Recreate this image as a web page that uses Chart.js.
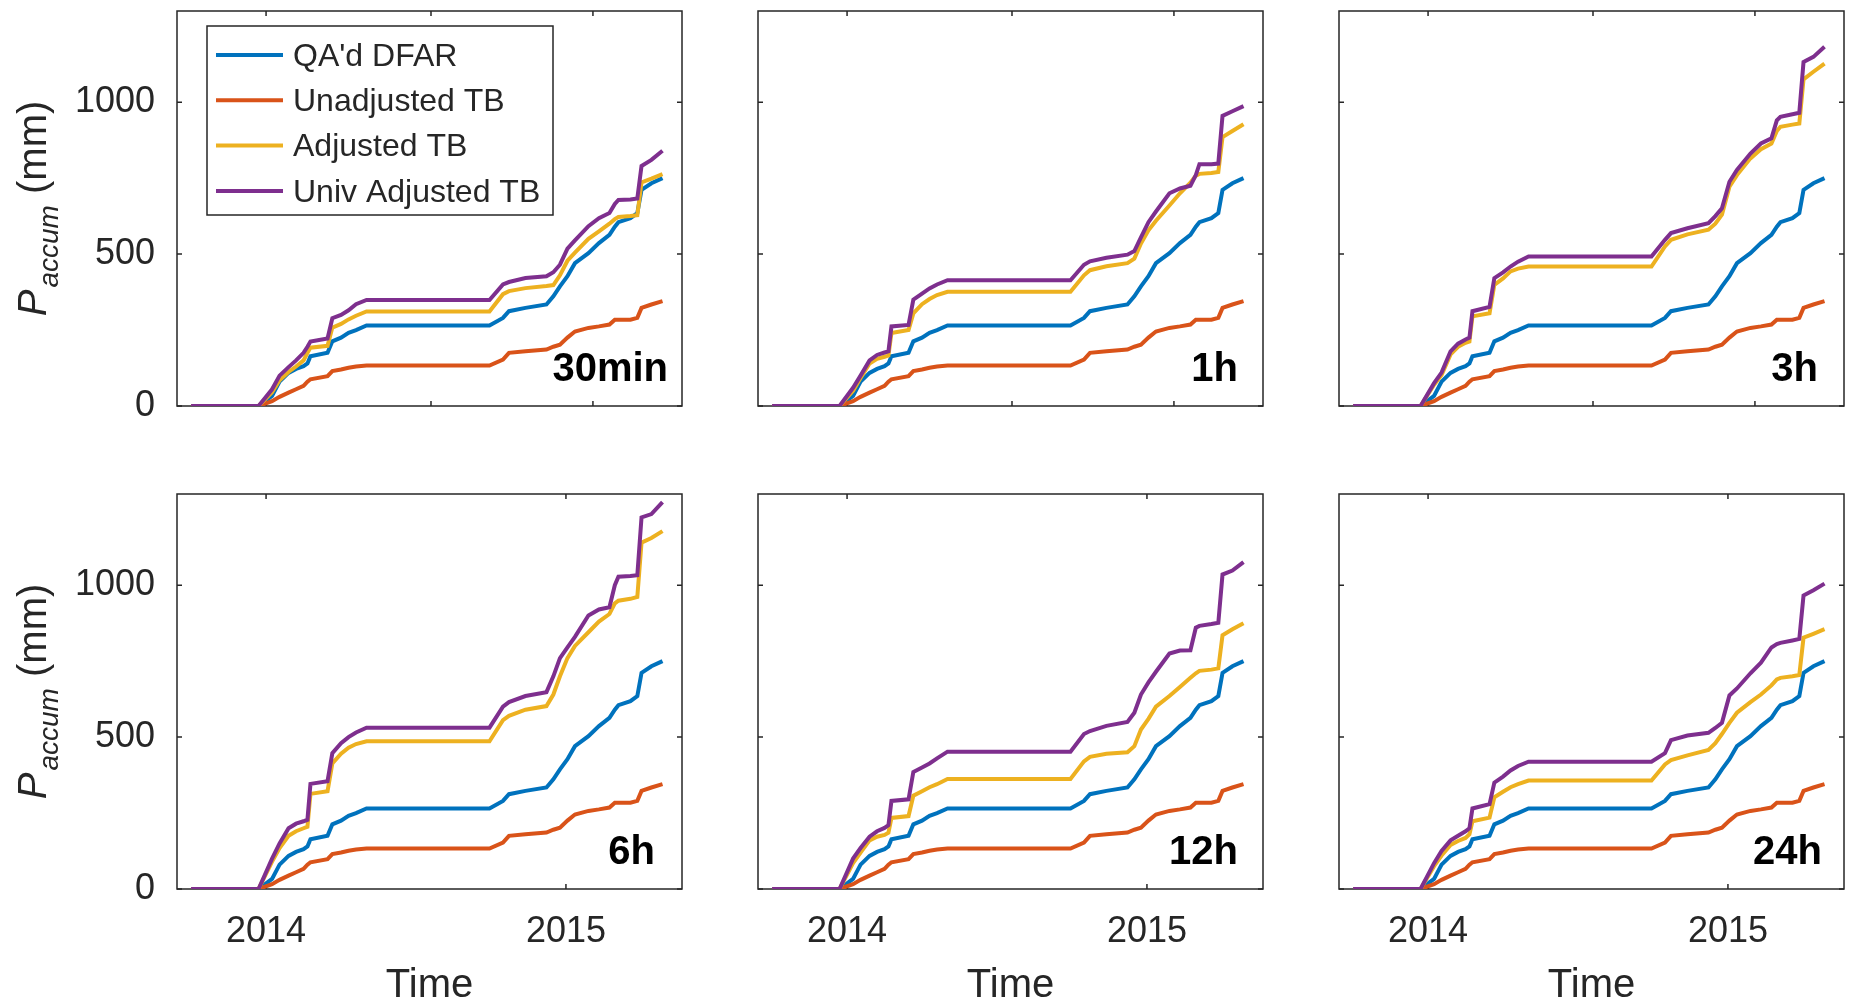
<!DOCTYPE html>
<html>
<head>
<meta charset="utf-8">
<title>Accumulated precipitation by TB adjustment</title>
<script src="https://cdn.jsdelivr.net/npm/chart.js@4.4.1/dist/chart.umd.min.js"></script>
<style>
  html, body { margin: 0; padding: 0; background: #fff; overflow: hidden; }
  #fig { position: relative; width: 1850px; height: 1005px; }
  #fig canvas { position: absolute; }
</style>
</head>
<body>
<div id="fig"></div>
<script>
// ---------- data (decimal years, accumulated mm) ----------

const TIME = [2013.75, 2013.975, 2014.02, 2014.045, 2014.075, 2014.10, 2014.125, 2014.138, 2014.148, 2014.205,
              2014.221, 2014.25, 2014.275, 2014.30, 2014.335, 2014.745, 2014.79, 2014.81, 2014.865, 2014.935,
              2014.958, 2014.98, 2015.005, 2015.03, 2015.075, 2015.11, 2015.145, 2015.163, 2015.175, 2015.215,
              2015.238, 2015.252, 2015.285, 2015.322];

const SERIES_NAMES = ["QA'd DFAR", "Unadjusted TB", "Adjusted TB", "Univ Adjusted TB"];
const PANEL_NAMES  = ["30min", "1h", "3h", "6h", "12h", "24h"];

const Y_TICKS         = [0, 500, 1000];
const BOTTOM_X_TICKS  = [2014, 2015];
const TOP_X_TICKS     = [2014, 2014.55, 2015.09];

// reference gauge + unadjusted bucket: same in every panel
const DFAR     = [0, 0, 33, 80, 109, 122, 131, 140, 164, 175, 213, 225, 241, 250, 265, 265, 290, 312, 323, 334,
                  361, 394, 427, 470, 503, 536, 563, 590, 605, 618, 635, 711, 733, 750];
const UNADJ_TB = [0, 0, 16, 30, 44, 55, 66, 80, 88, 98, 115, 120, 126, 130, 133, 133, 153, 175, 180, 186,
                  195, 202, 225, 245, 257, 262, 268, 284, 284, 284, 290, 323, 334, 345];

const ADJ_30MIN  = [0, 0, 45, 85, 112, 130, 150, 175, 192, 198, 258, 270, 285, 297, 311, 311, 368, 378, 388, 395,
                    398, 430, 478, 505, 550, 575, 600, 615, 622, 625, 628, 736, 748, 763];
const UNIV_30MIN = [0, 0, 55, 100, 128, 150, 175, 195, 212, 222, 289, 300, 315, 335, 349, 349, 400, 408, 421, 427,
                    440, 465, 518, 545, 592, 618, 635, 665, 678, 680, 683, 790, 810, 840];

const ADJ_1H  = [0, 0, 50, 92, 140, 155, 162, 166, 240, 250, 305, 335, 352, 365, 376, 376, 430, 447, 460, 470,
                 485, 535, 578, 610, 660, 700, 735, 758, 764, 767, 770, 885, 905, 927];
const UNIV_1H = [0, 0, 60, 100, 150, 168, 176, 180, 262, 267, 350, 370, 387, 400, 414, 414, 465, 476, 488, 498,
                 510, 555, 605, 640, 700, 716, 725, 760, 796, 796, 798, 955, 970, 987];

const ADJ_3H  = [0, 0, 70, 102, 170, 195, 208, 212, 295, 305, 399, 420, 443, 452, 459, 459, 525, 547, 565, 580,
                 600, 630, 722, 760, 815, 845, 864, 905, 919, 926, 930, 1075, 1100, 1127];
const UNIV_3H = [0, 0, 75, 110, 180, 205, 219, 225, 312, 326, 421, 440, 459, 475, 492, 492, 547, 569, 585, 602,
                 625, 651, 738, 777, 831, 864, 881, 940, 952, 960, 965, 1132, 1149, 1182];

const ADJ_6H  = [0, 0, 90, 135, 175, 190, 200, 205, 313, 322, 413, 445, 465, 477, 486, 486, 556, 570, 590, 602,
                 640, 700, 760, 800, 845, 880, 905, 940, 949, 955, 961, 1140, 1155, 1178];
const UNIV_6H = [0, 0, 100, 150, 200, 215, 223, 228, 346, 355, 447, 480, 500, 515, 531, 531, 600, 615, 635, 648,
                 700, 760, 795, 830, 900, 920, 927, 1000, 1028, 1030, 1033, 1223, 1234, 1273];

const ADJ_12H  = [0, 0, 85, 120, 160, 172, 178, 185, 234, 240, 307, 322, 335, 345, 362, 362, 420, 435, 445, 450,
                  470, 525, 560, 600, 635, 665, 695, 710, 718, 722, 726, 835, 855, 875];
const UNIV_12H = [0, 0, 100, 135, 172, 190, 201, 210, 290, 295, 385, 400, 413, 430, 452, 452, 510, 520, 537, 550,
                  580, 640, 680, 715, 775, 785, 786, 860, 866, 872, 876, 1035, 1048, 1076];

const ADJ_24H  = [0, 0, 75, 110, 145, 158, 168, 180, 223, 235, 302, 320, 335, 345, 357, 357, 410, 424, 440, 458,
                  480, 510, 547, 580, 615, 640, 670, 690, 695, 700, 704, 827, 840, 855];
const UNIV_24H = [0, 0, 85, 125, 160, 175, 190, 200, 265, 279, 350, 370, 390, 405, 419, 419, 447, 490, 505, 514,
                  530, 547, 637, 660, 710, 745, 795, 806, 810, 818, 823, 966, 983, 1005];

const ADJUSTED = [ADJ_30MIN, ADJ_1H, ADJ_3H, ADJ_6H, ADJ_12H, ADJ_24H];
const UNIV_ADJ = [UNIV_30MIN, UNIV_1H, UNIV_3H, UNIV_6H, UNIV_12H, UNIV_24H];

// ---------- layout / style ----------

const COL_LEFT = [177, 758, 1339];
const ROW_TOP  = [11, 494];
const PLOT_W = 505, PLOT_H = 395;
const X_MIN = 2013.703, X_MAX = 2015.387;
const Y_MIN = 0, Y_MAX = 1300;
const TAG_GAP = [14, 25, 26, 27, 25, 22];   // right inset of the "30min"/"1h"... labels
const COLORS = ["#0072BD", "#D95319", "#EDB120", "#7E2F8E"];
const FONT = "'Liberation Sans', Arial, Helvetica, sans-serif";
const INK = "#262626";
const TICK_LEN = 5;
const LINE_W = 4;
const Y_TITLE_X = 46;

Chart.defaults.font.family = FONT;
Chart.defaults.color = INK;

const pts = vals => TIME.map((t, k) => ({ x: t, y: vals[k] }));

// box + inward ticks on all four sides, like matlab's "box on"
const matlabAxes = {
  id: "matlabAxes",
  beforeDatasetsDraw(chart) {
    const { ctx, chartArea: a, scales: { x, y } } = chart;
    ctx.save();
    ctx.strokeStyle = INK;
    ctx.lineWidth = 1.5;
    ctx.strokeRect(a.left, a.top, a.right - a.left, a.bottom - a.top);
    ctx.beginPath();
    for (const t of x.ticks) {
      const px = x.getPixelForValue(t.value);
      ctx.moveTo(px, a.bottom); ctx.lineTo(px, a.bottom - TICK_LEN);
      ctx.moveTo(px, a.top);    ctx.lineTo(px, a.top + TICK_LEN);
    }
    for (const t of y.ticks) {
      const py = y.getPixelForValue(t.value);
      ctx.moveTo(a.left, py);  ctx.lineTo(a.left + TICK_LEN, py);
      ctx.moveTo(a.right, py); ctx.lineTo(a.right - TICK_LEN, py);
    }
    ctx.stroke();
    ctx.restore();
  },
};

function drawLegend(chart) {
  const { ctx, chartArea: a } = chart;
  const bx = a.left + 30, by = a.top + 15, bw = 346, bh = 189;
  ctx.save();
  ctx.fillStyle = "#fff";
  ctx.fillRect(bx, by, bw, bh);
  ctx.strokeStyle = INK;
  ctx.lineWidth = 1.5;
  ctx.strokeRect(bx, by, bw, bh);
  ctx.font = `32px ${FONT}`;
  ctx.textAlign = "left";
  ctx.textBaseline = "middle";
  chart.data.datasets.forEach((ds, k) => {
    const ry = by + 29 + k * 45.3;
    ctx.strokeStyle = ds.borderColor;
    ctx.lineWidth = LINE_W;
    ctx.beginPath();
    ctx.moveTo(bx + 9, ry); ctx.lineTo(bx + 76, ry);
    ctx.stroke();
    ctx.fillStyle = INK;
    ctx.fillText(ds.label, bx + 86, ry + 2);
  });
  ctx.restore();
}

function drawYTitle(chart) {
  const { ctx, chartArea: a } = chart;
  const fMain = `italic 40px ${FONT}`, fSub = `italic 28px ${FONT}`, fNorm = `40px ${FONT}`;
  ctx.save();
  ctx.fillStyle = INK;
  ctx.textBaseline = "alphabetic";
  ctx.textAlign = "left";
  ctx.translate(Y_TITLE_X, (a.top + a.bottom) / 2);
  ctx.rotate(-Math.PI / 2);
  ctx.font = fMain; const wP = ctx.measureText("P").width;
  ctx.font = fSub;  const wA = ctx.measureText("accum").width;
  ctx.font = fNorm; const wM = ctx.measureText(" (mm)").width;
  const x0 = -(wP + 2 + wA + wM) / 2;
  ctx.font = fMain; ctx.fillText("P", x0, 0);
  ctx.font = fSub;  ctx.fillText("accum", x0 + wP + 2, 12);
  ctx.font = fNorm; ctx.fillText(" (mm)", x0 + wP + 2 + wA, 0);
  ctx.restore();
}

const fig = document.getElementById("fig");

PANEL_NAMES.forEach((name, i) => {
  const row = Math.floor(i / 3), col = i % 3;
  const mL = col === 0 ? COL_LEFT[0] : 20;
  const mT = 10, mR = 12, mB = row === 1 ? 121 : 12;

  const cv = document.createElement("canvas");
  cv.width = PLOT_W + mL + mR;
  cv.height = PLOT_H + mT + mB;
  cv.style.width = cv.width + "px";
  cv.style.height = cv.height + "px";
  cv.style.left = (COL_LEFT[col] - mL) + "px";
  cv.style.top = (ROW_TOP[row] - mT) + "px";
  fig.appendChild(cv);

  const series = [DFAR, UNADJ_TB, ADJUSTED[i], UNIV_ADJ[i]];
  const datasets = series.map((vals, k) => ({
    label: SERIES_NAMES[k],
    data: pts(vals),
    borderColor: COLORS[k],
    backgroundColor: COLORS[k],
    borderWidth: LINE_W,
    pointRadius: 0,
    tension: 0,
    fill: false,
    order: 3 - k,   // purple ends up on top
  }));

  const panelText = {
    id: "panelText",
    afterDraw(chart) {
      const { ctx, chartArea: a } = chart;
      ctx.save();
      ctx.font = `bold 40px ${FONT}`;
      ctx.fillStyle = "#000";
      ctx.textAlign = "right";
      ctx.textBaseline = "alphabetic";
      ctx.fillText(name, a.right - TAG_GAP[i], a.bottom - 25);
      ctx.restore();
      if (i === 0) drawLegend(chart);
      if (col === 0) drawYTitle(chart);
    },
  };

  new Chart(cv, {
    type: "line",
    data: { datasets },
    options: {
      responsive: false,
      animation: false,
      events: [],
      layout: { padding: { left: 0, top: mT, right: mR, bottom: 0 } },
      plugins: { legend: { display: false }, tooltip: { enabled: false } },
      scales: {
        x: {
          type: "linear",
          min: X_MIN,
          max: X_MAX,
          grid: { display: false, drawTicks: false },
          border: { display: false },
          ticks: {
            display: row === 1,
            font: { size: 36 },
            padding: 21,
            color: INK,
            maxRotation: 0,
            autoSkip: false,
            callback: v => String(v),
          },
          title: { display: row === 1, text: "Time", font: { size: 40 }, color: INK, padding: 0 },
          afterBuildTicks: s => { s.ticks = (row === 1 ? BOTTOM_X_TICKS : TOP_X_TICKS).map(v => ({ value: v })); },
          afterFit: s => { s.height = mB; s.paddingLeft = 0; s.paddingRight = 0; },
        },
        y: {
          min: Y_MIN,
          max: Y_MAX,
          grid: { display: false, drawTicks: false },
          border: { display: false },
          ticks: {
            display: col === 0,
            font: { size: 36 },
            padding: 22,
            color: INK,
            callback: v => String(v),
          },
          afterBuildTicks: s => { s.ticks = Y_TICKS.map(v => ({ value: v })); },
          afterFit: s => { s.width = mL; s.paddingTop = 0; s.paddingBottom = 0; },
        },
      },
    },
    plugins: [matlabAxes, panelText],
  });
});
</script>
</body>
</html>
